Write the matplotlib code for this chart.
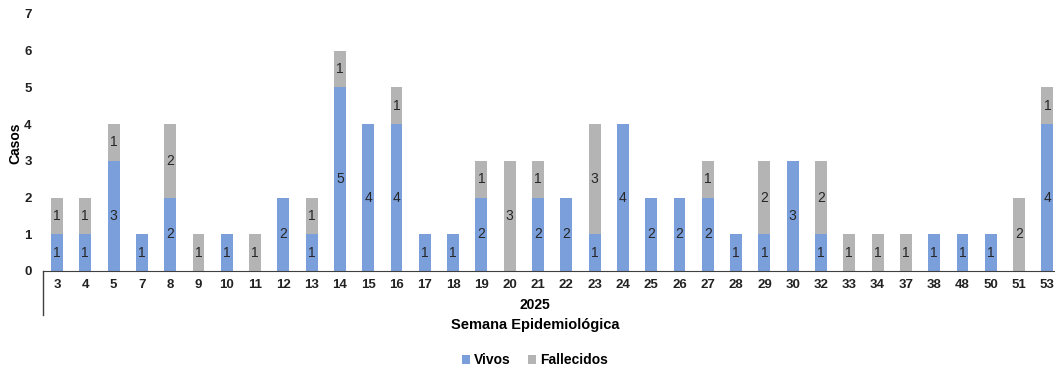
import matplotlib.pyplot as plt
from matplotlib.lines import Line2D

plt.rcParams['font.family'] = ['Liberation Sans', 'DejaVu Sans']

semanas = ['3', '4', '5', '7', '8', '9', '10', '11', '12', '13', '14', '15', '16', '17',
           '18', '19', '20', '21', '22', '23', '24', '25', '26', '27', '28', '29', '30',
           '32', '33', '34', '37', '38', '48', '50', '51', '53']
vivos = [1, 1, 3, 1, 2, 0, 1, 0, 2, 1, 5, 4, 4, 1, 1, 2, 0, 2, 2, 1, 4, 2, 2, 2, 1, 1, 3,
         1, 0, 0, 0, 1, 1, 1, 0, 4]
fallecidos = [1, 1, 1, 0, 2, 1, 0, 1, 0, 1, 1, 0, 1, 0, 0, 1, 3, 1, 0, 3, 0, 0, 0, 1, 0, 2, 0,
              2, 1, 1, 1, 0, 0, 0, 2, 1]

azul = '#7a9fdb'
gris = '#b4b4b4'

fig = plt.figure(figsize=(10.55, 3.68), dpi=100)
ax = fig.add_axes([0.0406, 0.2636, 0.9594, 0.6984])

x = list(range(len(semanas)))
b1 = ax.bar(x, vivos, width=0.42, color=azul, label='Vivos')
b2 = ax.bar(x, fallecidos, width=0.42, bottom=vivos, color=gris, label='Fallecidos')

for bars in (b1, b2):
    lbls = [str(int(r.get_height())) if r.get_height() > 0 else '' for r in bars]
    ax.bar_label(bars, labels=lbls, label_type='center', fontsize=10, color='#262626')

ax.set_xlim(-0.5, 35.27)
ax.set_ylim(0, 7)
ax.set_yticks(range(8))
ax.set_xticks(x)
ax.set_xticklabels(semanas)
for s in ('top', 'right', 'left'):
    ax.spines[s].set_visible(False)
ax.spines['bottom'].set_color('#404040')
ax.tick_params(axis='both', length=0, labelsize=9.5, colors='#222222')
ax.tick_params(axis='y', pad=8)
ax.tick_params(axis='x', pad=6)
for t in ax.get_xticklabels() + ax.get_yticklabels():
    t.set_fontweight('bold')

fig.text(15 / 1055, 1 - 143 / 368, 'Casos', rotation=90, ha='center', va='center',
         fontsize=10, fontweight='bold')

# separator line for the year group
fig.add_artist(Line2D([0.0406, 0.0406], [1 - 271 / 368, 1 - 315 / 368], color='#404040', lw=1))
fig.text(535 / 1055, 1 - 305 / 368, '2025', ha='center', va='center', fontsize=10, fontweight='bold')
fig.text(535 / 1055, 1 - 325 / 368, 'Semana Epidemiológica', ha='center', va='center',
         fontsize=10.5, fontweight='bold')

fig.legend(handles=[b1, b2], labels=['Vivos', 'Fallecidos'], loc='center',
           bbox_to_anchor=(535 / 1055, 1 - 360 / 368), ncol=2, frameon=False,
           handlelength=0.6, handleheight=0.6, handletextpad=0.3, columnspacing=1.2,
           prop={'weight': 'bold', 'size': 10})

fig.savefig('out.png', dpi=100)
